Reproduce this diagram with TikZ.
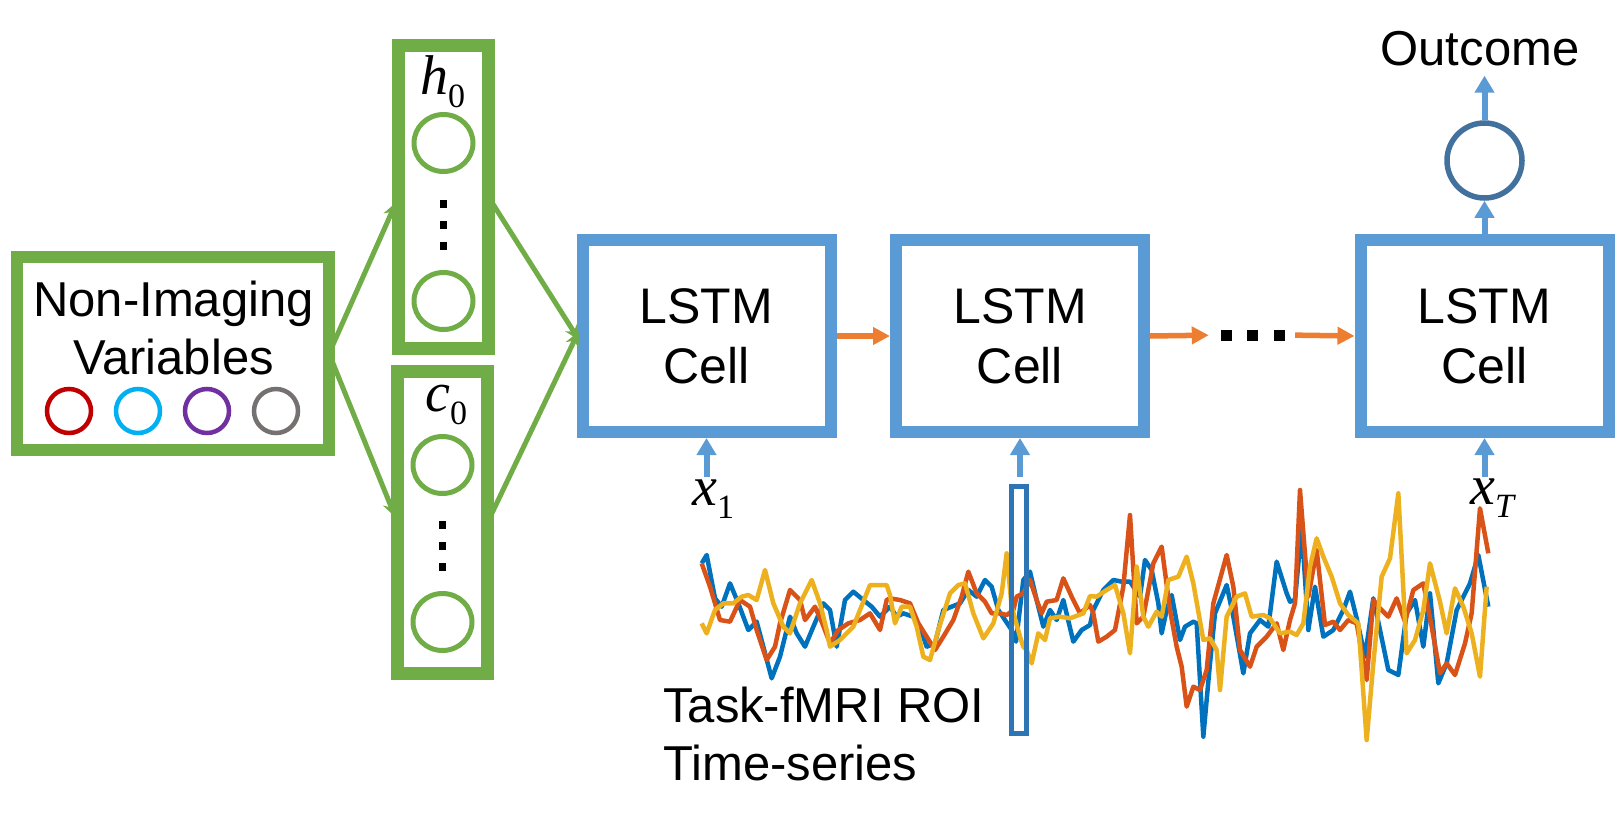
\documentclass[tikz,border=0pt]{standalone}
\usepackage{fontspec}
\setmainfont{Liberation Sans}
\newfontfamily\tms{Liberation Serif}
\usetikzlibrary{arrows.meta,shapes.geometric}
\definecolor{grn}{HTML}{70AD47}
\definecolor{lblue}{HTML}{5B9BD5}
\definecolor{dblue}{HTML}{2E75B6}
\definecolor{oblue}{HTML}{41719C}
\definecolor{org}{HTML}{ED7D31}
\definecolor{cred}{HTML}{C00000}
\definecolor{ccyan}{HTML}{00B0F0}
\definecolor{cpurple}{HTML}{7030A0}
\definecolor{cgray}{HTML}{767171}
\definecolor{sblue}{HTML}{0072BD}
\definecolor{sorange}{HTML}{D95319}
\definecolor{syellow}{HTML}{EDB120}
\newcommand{\mlab}[2]{{\tms\fontsize{56}{56}\selectfont\textit{#1}\raisebox{-0.24em}{\fontsize{34}{34}\selectfont #2}}}
\begin{document}
\begin{tikzpicture}[x=1pt,y=-1pt,
  gbox/.style={draw=grn, line width=12.5pt, outer sep=0pt, inner sep=0pt, fill=white},
  lstm/.style={draw=lblue, line width=12pt, minimum width=248pt, minimum height=192pt, align=center, inner sep=0pt, font=\fontsize{50}{60}\selectfont},
  txt/.style={font=\fontsize{49}{58}\selectfont, inner sep=0pt},
  vcirc/.style={circle, draw=#1, line width=4.5pt, minimum size=44pt, inner sep=0pt},
  gell/.style={ellipse, draw=grn, line width=5pt, minimum width=59pt, minimum height=57pt, inner sep=0pt},
  sq/.style={fill=black, minimum size=7.5pt, inner sep=0pt},
  garrow/.style={draw=grn, line width=5pt, -{Stealth[length=15pt,width=14pt]}},
  oarrow/.style={draw=org, line width=5.5pt, -{Triangle[length=17pt,width=17pt]}},
  barrow/.style={draw=lblue, line width=6pt, -{Triangle[length=17pt,width=19pt]}},
  ts/.style={line width=4.5pt, line join=round}
]
\useasboundingbox (0,0) rectangle (1615,822);

% non-imaging box
\node[gbox, minimum width=312pt, minimum height=193pt] (nonimg) at (173,353.5) {};
\node[txt, anchor=north, align=center] (nonimgtxt) at (173.5,280.5) {Non-Imaging\\Variables};
\node[vcirc=cred] (v1) at (69,411) {};
\node[vcirc=ccyan] (v2) at (138,411) {};
\node[vcirc=cpurple] (v3) at (207,411) {};
\node[vcirc=cgray] (v4) at (276,411) {};

% h0 / c0
\node[gbox, minimum width=90pt, minimum height=303pt] (h0) at (443.5,197) {};
\node[anchor=base west, inner sep=0pt] (h0lab) at (420,94) {\mlab{h}{0}};
\node[gell] (h0a) at (443.5,143) {};
\node[sq] (h0d1) at (443.5,204) {};
\node[sq] (h0d2) at (443.5,225) {};
\node[sq] (h0d3) at (443.5,246) {};
\node[gell] (h0b) at (443.5,301) {};

\node[gbox, minimum width=90pt, minimum height=302pt] (c0) at (442.5,522.5) {};
\node[anchor=base west, inner sep=0pt] (c0lab) at (425,411) {\mlab{c}{0}};
\node[gell] (c0a) at (442.5,465) {};
\node[sq] (c0d1) at (442.5,525) {};
\node[sq] (c0d2) at (442.5,546) {};
\node[sq] (c0d3) at (442.5,567) {};
\node[gell] (c0b) at (442.5,622) {};

% LSTM cells
\node[lstm] (l1) at (706.5,336) {LSTM\\Cell};
\node[lstm] (l2) at (1020,336) {LSTM\\Cell};
\node[lstm] (l3) at (1484.5,336) {LSTM\\Cell};
\node[inner sep=0pt, minimum width=64pt, minimum height=11pt] (dots) at (1253,335)
  {\rule{11pt}{11pt}\hspace{15pt}\rule{11pt}{11pt}\hspace{16pt}\rule{11pt}{11pt}};

% green connectors
\draw[garrow, shorten >=6pt] (nonimg.east) -- (h0.west);
\draw[garrow, shorten >=6pt] (nonimg.east) -- (c0.west);
\draw[garrow, shorten >=-5pt] (h0.east) -- (l1.west);
\draw[garrow, shorten >=-5pt] (c0.east) -- (l1.west);

% orange connectors
\draw[oarrow] (l1.east) -- (l2.west);
\draw[oarrow, shorten >=12pt] (l2.east) -- (dots.west);
\draw[oarrow, shorten <=10pt] (dots.east) -- (l3.west);

% inputs
\coordinate (in1) at (706.5,477);
\coordinate (in2) at (1020,477);
\coordinate (in3) at (1484.5,477);
\draw[barrow] (in1) -- (l1.south);
\draw[barrow] (in2) -- (l2.south);
\draw[barrow] (in3) -- (l3.south);
\node[anchor=base west, inner sep=0pt] (x1lab) at (692,505) {\mlab{x}{1}};
\node[anchor=base west, inner sep=0pt] (xTlab) at (1470,504) {\mlab{x}{\textit{T}}};

% output
\node[circle, draw=oblue, line width=5.5pt, minimum size=75pt, inner sep=0pt] (out) at (1484.5,160.5) {};
\node[txt, anchor=base] (outtxt) at (1480,65) {Outcome};
\draw[barrow] (l3.north) -- (out.south);
\draw[barrow, shorten >=10pt] (out.north) -- (out.north |- outtxt.south);

% time series
\begin{scope}[shift={(690,470)}, x=0.33333pt, y=-0.33333pt]
\draw[ts, sblue] (35,280)--(50,255)--(75,385)--(95,410)--(120,340)--(145,400)--(175,480)--(200,455)--(245,625)--(270,560)--(300,440)--(320,490)--(345,530)--(370,470)--(400,400)--(420,420)--(440,530)--(465,390)--(490,365)--(520,390)--(545,410)--(570,440)--(600,410)
 --(620,440)--(640,430)--(670,440)--(690,470)--(710,530)--(735,520)--(760,420)--(785,410)--(810,400)--(835,360)--(860,380)--(885,330)--(905,350)--(925,420)--(945,450)--(965,480)--(978,515)--(1000,330)--(1020,305)--(1040,390)--(1060,470)--(1080,420)--(1100,450)--(1120,390)--(1150,515)--(1175,480)--(1200,465)
 --(1210,420)--(1240,360)--(1270,330)--(1295,335)--(1320,335)--(1350,380)--(1365,270)--(1385,300)--(1405,400)--(1415,490)--(1430,420)--(1445,375)--(1470,510)--(1485,470)--(1510,455)--(1520,460)--(1540,800)--(1560,580)--(1575,430)--(1610,345)--(1630,440)--(1660,610)--(1680,490)--(1710,450)--(1735,470)--(1760,275)--(1790,370)--(1800,395)
 --(1815,390)--(1835,170)--(1855,480)--(1875,350)--(1900,500)--(1930,480)--(1960,420)--(1980,365)--(2000,445)--(2025,560)--(2050,385)--(2070,480)--(2095,600)--(2125,615)--(2150,430)--(2175,390)--(2200,530)--(2220,370)--(2245,640)--(2270,580)--(2300,420)--(2340,340)--(2365,255)--(2395,410);
\draw[ts, sorange] (35,280)--(60,350)--(90,450)--(120,455)--(150,390)--(180,410)--(200,480)--(230,570)--(255,530)--(270,460)--(300,360)--(330,390)--(345,450)--(375,410)--(395,455)--(420,520)--(445,480)--(475,460)--(510,450)--(540,430)--(570,480)--(590,390)--(600,385)
 --(630,390)--(660,400)--(685,460)--(710,500)--(735,540)--(760,500)--(790,450)--(815,380)--(835,305)--(860,370)--(885,395)--(905,430)--(930,430)--(950,435)--(970,420)--(980,380)--(1000,370)--(1020,330)--(1040,390)--(1055,430)--(1070,395)--(1100,390)--(1120,325)--(1145,380)--(1170,430)--(1200,405)
 --(1210,430)--(1225,515)--(1250,500)--(1275,480)--(1300,350)--(1320,135)--(1340,460)--(1360,440)--(1390,280)--(1415,230)--(1440,420)--(1460,530)--(1475,590)--(1490,710)--(1510,650)--(1530,660)--(1550,600)--(1570,400)--(1610,255)--(1630,350)--(1650,540)--(1680,590)--(1700,530)--(1730,500)--(1760,460)--(1780,540)--(1800,450)
 --(1815,400)--(1830,60)--(1855,380)--(1880,240)--(1905,465)--(1930,455)--(1950,480)--(1975,450)--(2000,460)--(2030,630)--(2050,390)--(2070,415)--(2095,440)--(2120,385)--(2145,455)--(2170,360)--(2200,340)--(2225,470)--(2250,610)--(2270,580)--(2295,615)--(2325,520)--(2345,430)--(2370,115)--(2395,250);
\draw[ts, syellow] (35,460)--(50,490)--(75,420)--(100,400)--(130,400)--(155,380)--(175,375)--(200,390)--(225,300)--(250,400)--(280,470)--(300,490)--(330,400)--(365,330)--(390,400)--(410,480)--(420,530)--(450,510)--(490,470)--(540,345)--(590,345)--(600,375)
 --(615,460)--(635,410)--(660,410)--(680,470)--(700,560)--(720,570)--(745,480)--(780,370)--(805,345)--(825,340)--(850,430)--(880,505)--(910,460)--(935,370)--(950,250)--(965,410)--(990,500)--(1000,530)--(1010,540)--(1025,580)--(1045,490)--(1065,510)--(1080,445)--(1110,440)--(1140,445)--(1180,430)--(1200,378)
 --(1220,380)--(1250,360)--(1275,345)--(1300,430)--(1320,550)--(1340,290)--(1360,440)--(1375,470)--(1400,425)--(1415,440)--(1435,330)--(1465,320)--(1490,260)--(1510,340)--(1540,510)--(1560,505)--(1580,540)--(1590,660)--(1610,440)--(1640,380)--(1665,370)--(1685,440)--(1720,435)--(1740,445)--(1770,490)--(1800,485)
 --(1820,495)--(1840,460)--(1860,290)--(1880,205)--(1900,260)--(1925,320)--(1950,400)--(1975,435)--(2005,460)--(2030,810)--(2050,580)--(2075,320)--(2100,265)--(2125,70)--(2150,550)--(2175,510)--(2200,420)--(2220,280)--(2250,395)--(2270,490)--(2295,355)--(2320,410)--(2345,490)--(2370,620)--(2390,350);
\end{scope}
\node[draw=dblue, line width=5pt, minimum width=15pt, minimum height=247pt, inner sep=0pt, outer sep=0pt] (win) at (1019,610) {};
\node[txt, anchor=north west, align=left] (tasktxt) at (663,686.5) {Task-fMRI ROI\\Time-series};
\end{tikzpicture}
\end{document}
